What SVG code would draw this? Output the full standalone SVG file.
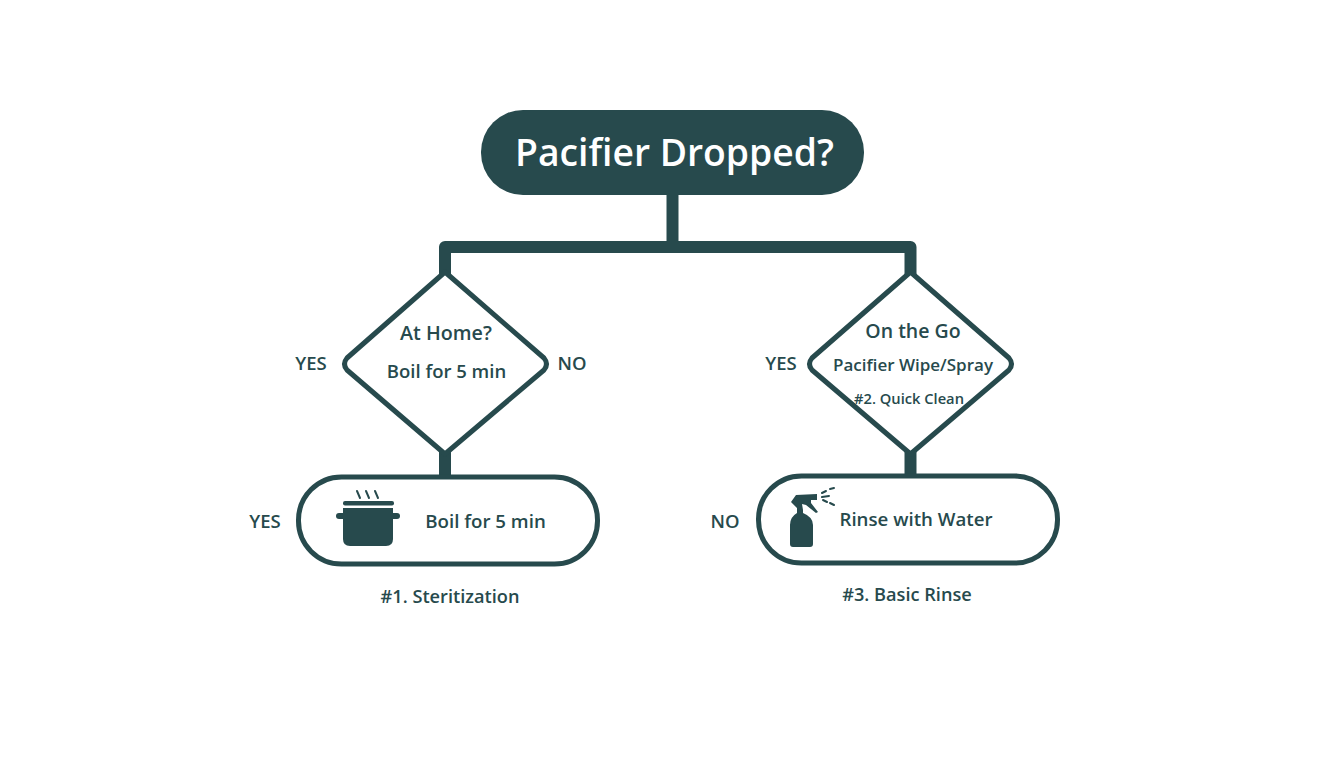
<svg xmlns="http://www.w3.org/2000/svg" width="1344" height="768" viewBox="0 0 1344 768">
<style>
text{font-family:"Open Sans","Noto Sans","Liberation Sans",sans-serif;font-weight:600;fill:#274a4d;text-anchor:middle}
.box{fill:#fff;stroke:#274a4d;stroke-width:5}
.dia{fill:#fff;stroke:#274a4d;stroke-width:5;stroke-linejoin:round}
.conn{fill:none;stroke:#274a4d;stroke-width:12}
.ink{fill:#274a4d}
.thin{fill:none;stroke:#274a4d;stroke-width:2;stroke-linecap:round}
.l{font-size:18.500px}
</style>
<rect width="1344" height="768" fill="#fff"/>
<g id="connectors">
<path class="conn" d="M672.500 190V247"/>
<path class="conn" stroke-linejoin="round" d="M445 280V247H910.500V280"/>
<path class="conn" d="M445 450V482"/>
<path class="conn" d="M910.500 450V482"/>
</g>
<g id="start">
<rect x="481" y="110" width="383" height="85" rx="42" fill="#274a4d"/>
<text x="674.500" y="166" font-size="37.300" style="fill:#fff">Pacifier Dropped?</text>
</g>
<g id="decision-home">
<path class="dia" d="M445 272L544 358Q549 364 544 370L445 454L347 370Q342 364 347 358Z"/>
<text x="446" y="340" font-size="19.700">At Home?</text>
<text x="446.500" y="378" font-size="18.500">Boil for 5 min</text>
<text x="311" y="370" class="l">YES</text>
<text x="572" y="370" class="l">NO</text>
</g>
<g id="decision-go">
<path class="dia" d="M910.500 272L1009 358Q1014 364 1009 370L910.500 454L812 370Q807 364 812 358Z"/>
<text x="913" y="338" font-size="19.500">On the Go</text>
<text x="913" y="371" font-size="17">Pacifier Wipe/Spray</text>
<text x="909" y="404" font-size="14.700">#2. Quick Clean</text>
<text x="781" y="370" class="l">YES</text>
</g>
<g id="step-boil">
<rect class="box" x="298.500" y="477" width="299" height="87" rx="43"/>
<g id="pot-icon">
<rect class="ink" x="343" y="501" width="51" height="4.500" rx="2"/>
<path class="ink" d="M343 508H393V539Q393 546 386 546H350Q343 546 343 539Z"/>
<rect class="ink" x="336" y="513" width="64" height="6" rx="3"/>
<path class="thin" d="M357 491L360 498M366 491L369 498M375 491L378 498"/>
</g>
<text x="485.500" y="528" font-size="18.700">Boil for 5 min</text>
<text x="265" y="528" class="l">YES</text>
<text x="450" y="603" font-size="18.200">#1. Steritization</text>
</g>
<g id="step-rinse">
<rect class="box" x="758.500" y="476" width="299" height="87" rx="43"/>
<g id="spray-icon">
<path class="ink" d="M796 495L817 494V500H811V503L818 512 816 513 806 505 802 504 803 510V513Q813 517 813 525V544Q813 547 810 547H793Q790 547 790 544V525Q790 517 797 513V508L791 502Z"/>
<path class="thin" stroke-width="1.500" d="M822 493L826 491M830 489L834 488M822 497L829 496M823 500L827 502M830 503L834 505"/>
</g>
<text x="916" y="526" font-size="18.700">Rinse with Water</text>
<text x="725" y="528" class="l">NO</text>
<text x="907" y="601" font-size="18.200">#3. Basic Rinse</text>
</g>
</svg>
